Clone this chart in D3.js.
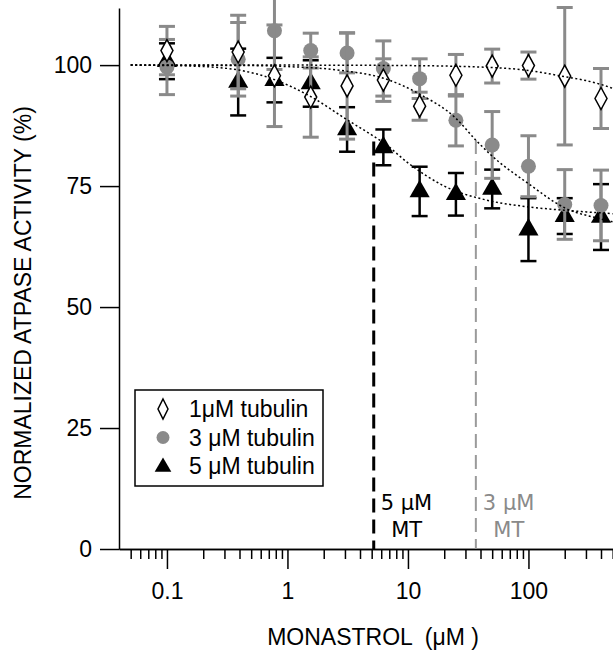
<!DOCTYPE html>
<html>
<head>
<meta charset="utf-8">
<script src="https://cdn.jsdelivr.net/npm/d3@7"></script>
<style>
  body { margin: 0; background: #fff; }
  svg { display: block; }
</style>
</head>
<body>
<div id="chart"></div>
<script>
// ---- data ----
var conc = [0.1, 0.39, 0.78, 1.56, 3.125, 6.25, 12.5, 25, 50, 100, 200, 400];

var tub1 = [103, 102.7, 97.8, 93.4, 95.7, 96.9, 91.5, 97.9, 99.8, 99.9, 97.7, 93.1];
var tub1Err = [5, 7.6, 10.5, 8.3, 11, 4.4, 2.9, 4.3, 3.5, 2.8, 14.2, 6.2];

var tub3 = [99.6, 101.2, 107.1, 103, 102.5, 99.3, 97.2, 88.6, 83.5, 79.1, 71.2, 71];
var tub3Err = [5.7, 7.6, 8, 3.6, 4.1, 5.7, 4.1, 5.3, 6.9, 6.3, 7.2, 7.3];

var tub5 = [100.8, 96.5, 96.9, 96.2, 86.7, 83.0, 73.9, 73.3, 74.4, 66.0, 68.8, 68.6];
var tub5Err = [3.7, 6.9, 4.6, 4.8, 4.6, 3.7, 5.1, 4.4, 4.0, 6.5, 3.7, 6.8];

// fitted curves
var fit1X = [0.05, 1, 10, 50, 100, 200, 300, 400, 500];
var fit1Y = [100, 100, 99.9, 99.5, 98.9, 97.6, 96.8, 96.0, 95.2];
var fit3X = [0.05, 0.5, 1, 3, 6.25, 12.5, 25, 36.6, 50, 100, 200, 400, 500];
var fit3Y = [100, 99.9, 99.7, 98.8, 97.3, 94, 89, 84.5, 81.2, 75.5, 70.5, 68.2, 67.6];
var fit5X = [0.05, 0.16, 0.39, 0.78, 1.56, 3.125, 5.2, 6.25, 10, 20, 45, 100, 200, 500];
var fit5Y = [100, 99.8, 99, 97, 93.5, 88.7, 85.3, 84, 79.8, 75, 72.1, 70.7, 70, 69.3];

// IC50 markers
var mtConc = [5.2, 36.6];
var mtTop = [84.2, 84.5];
var mtLabel = ["5 \u03BCM", "3 \u03BCM"];

var xTicks = [0.1, 1, 10, 100];
var xTickLabels = ["0.1", "1", "10", "100"];
var yTicks = [0, 25, 50, 75, 100];

var legendLabels = ["1\u03BCM tubulin", "3 \u03BCM tubulin", "5 \u03BCM tubulin"];

// ---- setup ----
var W = 613, H = 655;
var GRAY = "#8a8a8a";
var FONT = "Liberation Sans, Arial, sans-serif";

var svg = d3.select("#chart").append("svg")
  .attr("width", W).attr("height", H);

var x = d3.scaleLog().domain([0.04, 1000]).range([119, 119 + 120.5 * Math.log10(1000 / 0.04)]);
var y = d3.scaleLinear().domain([0, 111.8]).range([549, 8]);

// ---- axes ----
var minor = x.ticks().filter(function(d){ return d > 0.045 && xTicks.indexOf(d) < 0; });

svg.append("g")
  .attr("transform", "translate(0,549)")
  .call(d3.axisBottom(x).tickValues(minor).tickSize(10).tickSizeOuter(0).tickFormat(""))
  .call(function(g){ g.selectAll("line,path").attr("stroke", "#000").attr("stroke-width", 1.5); });

var xa = svg.append("g")
  .attr("transform", "translate(0,549)")
  .call(d3.axisBottom(x).tickValues(xTicks).tickSize(20).tickSizeOuter(0).tickPadding(14)
    .tickFormat(function(d, i){ return xTickLabels[i]; }));
xa.selectAll("line,path").attr("stroke", "#000").attr("stroke-width", 1.5);
xa.selectAll("text").attr("font-family", FONT).attr("font-size", 23).attr("fill", "#000");

var ya = svg.append("g")
  .attr("transform", "translate(119,0)")
  .call(d3.axisLeft(y).tickValues(yTicks).tickSize(19).tickSizeOuter(0).tickPadding(8));
ya.selectAll("line,path").attr("stroke", "#000").attr("stroke-width", 1.5);
ya.selectAll("text").attr("font-family", FONT).attr("font-size", 23).attr("fill", "#000");

// axis titles
svg.append("text")
  .attr("x", 373).attr("y", 645)
  .attr("text-anchor", "middle")
  .style("white-space", "pre")
  .attr("font-family", FONT).attr("font-size", 23)
  .text("MONASTROL  (\u03BCM )");

svg.append("text")
  .attr("transform", "translate(31,303) rotate(-90)")
  .attr("text-anchor", "middle")
  .attr("font-family", FONT).attr("font-size", 23)
  .text("NORMALIZED ATPASE ACTIVITY (%)");

// ---- IC50 dashed lines ----
var mtColor = ["#000", "#9a9a9a"];
var mtWidth = [3, 2];
svg.selectAll(".mt")
  .data(mtConc)
  .enter().append("line")
    .attr("x1", function(d){ return x(d); })
    .attr("x2", function(d){ return x(d); })
    .attr("y1", function(d, i){ return y(mtTop[i]); })
    .attr("y2", y(0))
    .attr("stroke", function(d, i){ return mtColor[i]; })
    .attr("stroke-width", function(d, i){ return mtWidth[i]; })
    .attr("stroke-dasharray", "14,7");

var mtText = ["#000", "#8a8a8a"];
mtConc.forEach(function(d, i){
  svg.append("text")
    .attr("x", x(d) + 7).attr("y", 510)
    .attr("font-family", "DejaVu Sans, sans-serif").attr("font-size", 21)
    .attr("fill", mtText[i])
    .text(mtLabel[i]);
  svg.append("text")
    .attr("x", x(d) + 33).attr("y", 537)
    .attr("text-anchor", "middle")
    .attr("font-family", "DejaVu Sans, sans-serif").attr("font-size", 21)
    .attr("fill", mtText[i])
    .text("MT");
});

// ---- series ----
var diamondPath = "M0,-11L6,0L0,11L-6,0Z";
var triSym = d3.symbol().type(d3.symbolTriangle).size(175);

var series = [
  { vals: tub5, err: tub5Err, bar: "#000", barW: 2.5, mark: "tri" },
  { vals: tub3, err: tub3Err, bar: GRAY, barW: 3, mark: "circle" },
  { vals: tub1, err: tub1Err, bar: GRAY, barW: 3, mark: "diamond" }
];

series.forEach(function(s){
  var g = svg.append("g");
  var pts = conc.map(function(c, i){ return { c: c, v: s.vals[i], e: s.err[i] }; });

  // error bars
  g.selectAll(".v").data(pts).enter().append("line")
    .attr("x1", function(d){ return x(d.c); }).attr("x2", function(d){ return x(d.c); })
    .attr("y1", function(d){ return y(d.v + d.e); }).attr("y2", function(d){ return y(d.v - d.e); })
    .attr("stroke", s.bar).attr("stroke-width", s.barW);
  [1, -1].forEach(function(sign){
    g.selectAll(".cap").data(pts).enter().append("line")
      .attr("x1", function(d){ return x(d.c) - 8; }).attr("x2", function(d){ return x(d.c) + 8; })
      .attr("y1", function(d){ return y(d.v + sign * d.e); }).attr("y2", function(d){ return y(d.v + sign * d.e); })
      .attr("stroke", s.bar).attr("stroke-width", s.barW);
  });

  // markers
  if (s.mark == "circle") {
    g.selectAll(".m").data(pts).enter().append("circle")
      .attr("cx", function(d){ return x(d.c); })
      .attr("cy", function(d){ return y(d.v); })
      .attr("r", 7.5)
      .attr("fill", GRAY);
  } else if (s.mark == "tri") {
    g.selectAll(".m").data(pts).enter().append("path")
      .attr("d", triSym)
      .attr("transform", function(d){ return "translate(" + x(d.c) + "," + y(d.v) + ")"; })
      .attr("fill", "#000");
  } else {
    g.selectAll(".m").data(pts).enter().append("path")
      .attr("d", diamondPath)
      .attr("transform", function(d){ return "translate(" + x(d.c) + "," + y(d.v) + ")"; })
      .attr("fill", "#fff").attr("stroke", "#000").attr("stroke-width", 1.5);
  }
});

// ---- fitted dotted curves ----
var line = d3.line()
  .x(function(d){ return x(d[0]); })
  .y(function(d){ return y(d[1]); })
  .curve(d3.curveMonotoneX);

[[fit1X, fit1Y], [fit3X, fit3Y], [fit5X, fit5Y]].forEach(function(f){
  svg.append("path")
    .datum(d3.zip(f[0], f[1]))
    .attr("d", line)
    .attr("fill", "none")
    .attr("stroke", "#000")
    .attr("stroke-width", 1.5)
    .attr("stroke-dasharray", "2,2.5");
});

// ---- legend ----
var lg = svg.append("g");
lg.append("rect")
  .attr("x", 135).attr("y", 390).attr("width", 188).attr("height", 96)
  .attr("fill", "#fff").attr("stroke", "#000").attr("stroke-width", 1.5);

var legendMark = ["diamond", "circle", "tri"];
legendLabels.forEach(function(lab, i){
  var cy = 409 + i * 28.5;
  if (legendMark[i] == "diamond") {
    lg.append("path").attr("d", "M0,-10L5,0L0,10L-5,0Z")
      .attr("transform", "translate(163," + cy + ")")
      .attr("fill", "#fff").attr("stroke", "#000").attr("stroke-width", 1.5);
  } else if (legendMark[i] == "circle") {
    lg.append("circle").attr("cx", 163).attr("cy", cy).attr("r", 6.5).attr("fill", GRAY);
  } else {
    lg.append("path").attr("d", d3.symbol().type(d3.symbolTriangle).size(120))
      .attr("transform", "translate(163," + (cy + 1) + ")").attr("fill", "#000");
  }
  lg.append("text")
    .attr("x", 189).attr("y", cy + 8)
    .attr("font-family", FONT).attr("font-size", 23)
    .text(lab);
});
</script>
</body>
</html>
